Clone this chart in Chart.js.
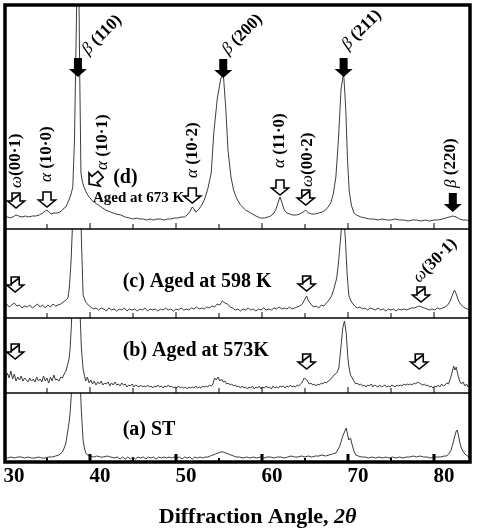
<!DOCTYPE html>
<html>
<head>
<meta charset="utf-8">
<script src="https://cdn.jsdelivr.net/npm/chart.js@4"></script>
<style>
  html, body { margin: 0; padding: 0; background: #fff; }
  #wrap { width: 478px; height: 530px; }
</style>
</head>
<body>
<div id="wrap"><canvas id="xrdChart" width="478" height="530"></canvas></div>
<script>
// XRD patterns, [2theta, intensity a.u.]
const patternD = [
  [30.0,11],[30.4,12],[30.8,11],[31.2,13],[31.4,14],[31.7,13],[32.1,12],[32.5,13],[32.9,12],[33.3,13],
  [33.7,13],[34.1,14],[34.5,16],[34.8,18],[35.0,19],[35.2,17],[35.5,15],[35.8,16],[36.2,16],[36.5,17],
  [36.8,19],[37.0,21],[37.2,22],[37.4,26],[37.56,29],[37.8,35],[38.0,42],[38.2,90],[38.35,170],[38.5,250],
  [38.6,265],[38.7,250],[38.8,160],[38.95,56],[39.1,48],[39.3,42],[39.6,36],[39.9,32],[40.3,28],[40.8,25],
  [41.3,22],[41.8,19],[42.4,17],[43.0,15],[43.6,14],[44.1,12],[44.6,11],[45.0,10],[45.4,11],[45.8,10],
  [46.2,10],[46.6,9],[47.0,10],[47.4,9],[47.8,10],[48.2,10],[48.6,9],[49.0,10],[49.4,10],[49.8,11],
  [50.2,11],[50.6,12],[51.0,12],[51.3,14],[51.6,17],[51.9,22],[52.1,20],[52.3,17],[52.6,19],[53.0,24],
  [53.3,29],[53.7,40],[54.1,56],[54.4,96],[54.8,130],[55.2,150],[55.5,156],[55.8,120],[56.05,79],[56.4,52],
  [56.7,39],[57.1,30],[57.5,24],[58.1,19],[58.7,16],[59.3,13],[59.8,11],[60.3,11],[60.7,12],[61.0,13],
  [61.3,15],[61.6,19],[61.9,27],[62.1,32],[62.3,27],[62.6,19],[62.9,16],[63.2,15],[63.6,14],[64.0,14],
  [64.4,15],[64.8,17],[65.1,19],[65.4,16],[65.8,15],[66.2,15],[66.6,16],[67.0,17],[67.4,19],[67.7,22],
  [68.0,26],[68.3,35],[68.6,52],[68.9,90],[69.2,140],[69.5,156],[69.75,120],[69.95,70],[70.15,38],[70.4,24],
  [70.7,16],[71.0,14],[71.5,12],[72.0,11],[72.5,10],[73.0,10],[73.5,9],[74.0,10],[74.5,9],[75.0,9],
  [75.5,10],[76.0,9],[76.5,9],[77.0,8],[77.5,9],[78.0,9],[78.5,8],[79.0,9],[79.5,8],[80.0,9],
  [80.5,9],[81.0,10],[81.4,11],[81.8,12],[82.2,13],[82.6,12],[83.0,10],[83.4,9],[83.8,9],[84.1,8],[84.4,9]
];

const patternC = [
  [30.0,12],[30.3,14],[30.6,11],[30.9,13],[31.2,15],[31.5,12],[31.8,13],[32.1,10],[32.4,12],[32.7,11],
  [33.0,13],[33.3,10],[33.6,12],[33.9,14],[34.2,11],[34.5,13],[34.8,10],[35.1,13],[35.4,11],[35.7,14],
  [36.0,12],[36.3,13],[36.6,14],[36.9,16],[37.2,18],[37.44,20],[37.6,30],[37.8,57],[38.0,100],[38.2,160],
  [38.4,215],[38.6,225],[38.8,170],[39.0,80],[39.2,23],[39.5,16],[39.8,13],[40.1,11],[40.4,9],[40.7,10],
  [41.0,8],[41.3,10],[41.6,9],[41.9,7],[42.2,10],[42.5,8],[42.8,9],[43.1,7],[43.4,9],[43.7,8],
  [44.0,10],[44.3,7],[44.6,9],[44.9,8],[45.2,9],[45.5,7],[45.8,9],[46.1,8],[46.4,10],[46.7,7],
  [47.0,9],[47.3,8],[47.6,9],[47.9,7],[48.2,9],[48.5,8],[48.8,10],[49.1,8],[49.4,9],[49.7,7],
  [50.0,9],[50.3,8],[50.6,10],[50.9,8],[51.2,9],[51.5,8],[51.8,10],[52.1,9],[52.4,11],[52.7,9],
  [53.0,10],[53.3,9],[53.6,11],[53.9,10],[54.2,12],[54.5,11],[54.8,14],[55.1,13],[55.4,17],[55.7,15],
  [56.0,14],[56.3,11],[56.6,10],[56.9,8],[57.2,9],[57.5,7],[57.8,9],[58.1,8],[58.4,10],[58.7,8],
  [59.0,9],[59.3,7],[59.6,9],[59.9,8],[60.2,10],[60.5,8],[60.8,9],[61.1,8],[61.4,10],[61.7,9],
  [62.0,11],[62.3,9],[62.6,10],[62.9,9],[63.2,11],[63.5,9],[63.8,10],[64.1,11],[64.4,12],[64.7,14],
  [65.0,19],[65.2,22],[65.4,17],[65.7,14],[66.0,11],[66.3,12],[66.6,10],[66.9,13],[67.2,12],[67.5,15],
  [67.8,18],[68.1,22],[68.4,30],[68.7,40],[68.9,55],[69.1,75],[69.3,95],[69.5,100],[69.7,80],[69.9,45],
  [70.1,23],[70.3,18],[70.5,15],[70.8,12],[71.1,10],[71.4,11],[71.7,9],[72.0,10],[72.3,8],[72.6,10],
  [72.9,9],[73.2,8],[73.5,10],[73.8,8],[74.1,9],[74.4,7],[74.7,9],[75.0,8],[75.3,9],[75.6,7],
  [75.9,9],[76.2,8],[76.5,9],[76.8,8],[77.1,9],[77.4,10],[77.7,10],[78.0,11],[78.3,12],[78.6,11],
  [78.9,10],[79.2,9],[79.5,8],[79.8,9],[80.1,8],[80.4,10],[80.7,9],[81.0,10],[81.3,11],[81.6,13],
  [81.9,17],[82.1,22],[82.3,26],[82.4,28],[82.6,24],[82.8,19],[83.0,15],[83.3,12],[83.6,10],[83.9,9],
  [84.2,8],[84.4,9]
];

const patternB = [
  [30.0,18],[30.2,14],[30.4,20],[30.6,15],[30.8,22],[31.0,14],[31.2,19],[31.4,12],[31.6,16],[31.8,13],
  [32.0,17],[32.2,12],[32.4,15],[32.6,13],[32.8,11],[33.0,15],[33.2,12],[33.4,14],[33.6,11],[33.8,16],
  [34.0,12],[34.2,14],[34.4,11],[34.6,17],[34.8,12],[35.0,15],[35.2,10],[35.4,16],[35.6,12],[35.8,18],
  [36.0,13],[36.2,14],[36.4,12],[36.6,16],[36.8,15],[37.0,19],[37.2,22],[37.4,28],[37.56,34],[37.7,45],
  [37.85,70],[38.0,110],[38.2,150],[38.4,160],[38.6,140],[38.8,90],[39.0,45],[39.2,24],[39.35,18],[39.5,12],
  [39.7,16],[39.9,10],[40.1,13],[40.3,9],[40.5,12],[40.7,8],[40.9,11],[41.1,9],[41.3,12],[41.5,8],
  [41.7,10],[41.9,9],[42.1,11],[42.3,7],[42.5,10],[42.7,8],[42.9,11],[43.1,8],[43.3,9],[43.5,7],
  [43.7,10],[43.9,8],[44.1,9],[44.3,6],[44.5,8],[44.7,7],[44.9,9],[45.1,6],[45.3,8],[45.5,7],
  [45.7,6],[45.9,8],[46.1,6],[46.3,7],[46.5,6],[46.7,8],[46.9,6],[47.1,7],[47.3,5],[47.5,7],
  [47.7,6],[47.9,8],[48.1,6],[48.3,7],[48.5,5],[48.7,7],[48.9,6],[49.1,8],[49.3,6],[49.5,7],
  [49.7,5],[49.9,6],[50.1,5],[50.3,7],[50.5,5],[50.7,6],[50.9,5],[51.1,6],[51.3,4],[51.5,6],
  [51.7,5],[51.9,6],[52.1,5],[52.3,7],[52.5,5],[52.7,6],[52.9,5],[53.1,7],[53.3,6],[53.5,7],
  [53.7,6],[53.9,8],[54.1,7],[54.3,9],[54.5,15],[54.7,13],[54.9,16],[55.1,12],[55.3,14],[55.5,11],
  [55.7,12],[55.9,9],[56.1,10],[56.3,8],[56.5,9],[56.7,7],[56.9,8],[57.1,6],[57.3,7],[57.5,5],
  [57.7,7],[57.9,5],[58.1,6],[58.3,4],[58.5,6],[58.7,5],[58.9,7],[59.1,4],[59.3,6],[59.5,5],
  [59.7,7],[59.9,4],[60.1,6],[60.3,5],[60.5,7],[60.7,5],[60.9,6],[61.1,4],[61.3,7],[61.5,5],
  [61.7,6],[61.9,5],[62.1,7],[62.3,6],[62.5,7],[62.7,5],[62.9,7],[63.1,6],[63.3,8],[63.5,6],
  [63.7,7],[63.9,6],[64.1,8],[64.3,7],[64.5,9],[64.7,11],[64.9,15],[65.1,14],[65.3,12],[65.5,9],
  [65.7,10],[65.9,8],[66.1,9],[66.3,7],[66.5,9],[66.7,8],[66.9,10],[67.1,9],[67.3,11],[67.5,10],
  [67.7,12],[67.9,13],[68.1,15],[68.3,17],[68.5,19],[68.7,20],[68.95,25],[69.2,47],[69.4,65],[69.6,72],
  [69.8,60],[70.0,35],[70.1,27],[70.3,18],[70.5,15],[70.7,12],[70.9,9],[71.1,10],[71.3,8],[71.5,9],
  [71.7,7],[71.9,8],[72.1,6],[72.3,8],[72.5,7],[72.7,9],[72.9,6],[73.1,8],[73.3,7],[73.5,6],
  [73.7,8],[73.9,6],[74.1,7],[74.3,8],[74.5,6],[74.7,7],[74.9,6],[75.1,8],[75.3,7],[75.5,6],
  [75.7,8],[75.9,7],[76.1,8],[76.3,7],[76.5,9],[76.7,8],[76.9,9],[77.1,8],[77.3,9],[77.5,8],
  [77.7,10],[77.9,9],[78.1,11],[78.3,10],[78.5,9],[78.7,8],[78.9,9],[79.1,7],[79.3,8],[79.5,6],
  [79.7,7],[79.9,5],[80.1,7],[80.3,6],[80.5,8],[80.7,6],[80.9,9],[81.1,7],[81.3,8],[81.5,10],
  [81.7,9],[81.9,14],[82.1,20],[82.3,27],[82.45,23],[82.6,26],[82.8,18],[83.0,12],[83.2,9],[83.4,11],
  [83.6,7],[83.8,9],[84.0,6],[84.2,8],[84.4,7]
];

const patternA = [
  [30.0,5],[30.4,4],[30.8,5],[31.2,4],[31.6,5],[32.0,5],[32.4,4],[32.8,5],[33.2,4],[33.6,4],
  [34.0,5],[34.4,4],[34.8,4],[35.2,5],[35.6,5],[36.0,6],[36.4,7],[36.8,10],[37.0,14],[37.2,19],
  [37.4,30],[37.56,39],[37.7,50],[37.85,70],[38.0,95],[38.2,115],[38.4,122],[38.6,118],[38.8,95],[39.0,50],
  [39.2,22],[39.35,14],[39.5,9],[39.7,7],[40.0,6],[40.4,5],[40.8,6],[41.2,5],[41.6,5],[42.0,6],
  [42.4,5],[42.8,4],[43.2,5],[43.5,3],[43.8,5],[44.1,3],[44.4,5],[44.7,3],[45.0,5],[45.3,3],
  [45.6,5],[45.9,4],[46.2,5],[46.5,3],[46.8,5],[47.1,4],[47.4,5],[47.7,3],[48.0,5],[48.3,4],
  [48.6,5],[48.9,4],[49.2,5],[49.5,4],[49.8,5],[50.1,4],[50.4,5],[50.7,3],[51.0,5],[51.3,4],
  [51.6,5],[51.9,3],[52.2,5],[52.5,4],[52.8,5],[53.1,4],[53.4,5],[53.7,5],[54.0,6],[54.3,7],
  [54.6,8],[54.9,9],[55.2,10],[55.5,10],[55.8,9],[56.1,8],[56.4,7],[56.7,6],[57.0,5],[57.4,5],
  [57.8,4],[58.2,5],[58.6,4],[59.0,5],[59.4,4],[59.8,5],[60.2,4],[60.6,5],[61.0,5],[61.4,4],
  [61.8,5],[62.2,5],[62.6,4],[63.0,5],[63.4,6],[63.8,5],[64.2,5],[64.6,6],[65.0,5],[65.4,6],
  [65.8,5],[66.2,6],[66.6,6],[67.0,7],[67.4,6],[67.8,7],[68.2,8],[68.6,9],[68.8,12],[69.0,15],
  [69.2,20],[69.4,26],[69.6,30],[69.8,34],[69.95,28],[70.1,22],[70.3,24],[70.5,17],[70.7,11],[70.9,7],
  [71.2,6],[71.6,5],[72.0,5],[72.4,4],[72.8,5],[73.2,4],[73.6,5],[74.0,4],[74.4,5],[74.8,4],
  [75.2,5],[75.6,4],[76.0,5],[76.4,4],[76.8,5],[77.2,5],[77.6,6],[78.0,5],[78.4,6],[78.8,5],
  [79.2,5],[79.6,4],[80.0,5],[80.4,5],[80.8,5],[81.2,6],[81.5,6],[81.8,9],[82.0,12],[82.2,18],
  [82.4,25],[82.6,31],[82.7,32],[82.85,27],[83.0,20],[83.15,15],[83.3,12],[83.6,8],[83.9,6],[84.1,5],[84.4,4]
];

// panel heights (a.u. full scale) from bottom to top: (a) ST, (b) 573K, (c) 598K, (d) 673K
const panelIds = ['yA', 'yB', 'yC', 'yD'];
const panelRange = [69, 75, 89, 224];
const xTicks = [30, 40, 50, 60, 70, 80];

// peak markers: panel, 2theta, arrow tip (a.u.), kind
const arrowMarks = [
  ['yD', 31.4, 21, 'omega'], ['yD', 35.0, 22, 'open'], ['yD', 38.6, 152, 'solid'],
  ['yD', 51.9, 26, 'open'], ['yD', 55.5, 151, 'solid'], ['yD', 62.1, 34, 'open'],
  ['yD', 65.1, 24, 'omega'], ['yD', 69.5, 152, 'solid'], ['yD', 82.2, 17, 'solid'],
  ['yC', 31.3, 26, 'omega'], ['yC', 65.2, 27, 'omega'], ['yC', 78.5, 16, 'omega'],
  ['yB', 31.3, 34, 'omega'], ['yB', 65.2, 24, 'omega'], ['yB', 78.3, 24, 'omega']
];

// peak labels: panel, 2theta, a.u., angle, phase symbol, indices
const peakLabels = [
  ['yD', 31.4, 41, -90, 'ω', '(00·1)'],
  ['yD', 35.0, 47, -90, 'α', ' (10·0)'],
  ['yD', 41.5, 59, -90, 'α', ' (10·1)'],
  ['yD', 51.9, 51, -90, 'α', ' (10·2)'],
  ['yD', 62.0, 61, -90, 'α', ' (11·0)'],
  ['yD', 65.3, 42, -90, 'ω', '(00·2)'],
  ['yD', 82.0, 41, -90, 'β', ' (220)'],
  ['yD', 39.4, 177, -45, 'β', ' (110)'],
  ['yD', 55.7, 177, -45, 'β', ' (200)'],
  ['yD', 69.6, 182, -45, 'β', ' (211)'],
  ['yC', 77.9, 38, -45, 'ω', '(30·1)']
];

const panelCaptions = [
  ['yD', 42.7, 51, '(d)'],
  ['yD', 40.35, 31, 'Aged at 673 K'],
  ['yC', 43.8, 36, '(c) Aged at 598 K'],
  ['yB', 43.8, 42, '(b) Aged at 573K'],
  ['yA', 43.8, 32, '(a) ST']
];

const SERIF = '"Liberation Serif", "DejaVu Serif", serif';

function arrowPath(ctx, len, shaftW, headW, headH) {
  // tip at origin, pointing down
  ctx.beginPath();
  ctx.moveTo(-shaftW / 2, -len);
  ctx.lineTo(shaftW / 2, -len);
  ctx.lineTo(shaftW / 2, -headH);
  ctx.lineTo(headW / 2, -headH);
  ctx.lineTo(0, 0);
  ctx.lineTo(-headW / 2, -headH);
  ctx.lineTo(-shaftW / 2, -headH);
  ctx.closePath();
}

function drawArrow(ctx, x, y, kind, rot) {
  ctx.save();
  ctx.translate(x, y);
  ctx.rotate(rot || 0);
  if (kind === 'solid') {
    arrowPath(ctx, 19, 8, 18, 8);
    ctx.fillStyle = '#000';
    ctx.fill();
  } else {
    arrowPath(ctx, 15, 8, 17, 7);
    ctx.fillStyle = '#fff';
    ctx.fill();
    ctx.lineWidth = 1.6;
    ctx.strokeStyle = '#000';
    ctx.stroke();
    if (kind === 'omega') {
      ctx.beginPath();
      ctx.moveTo(4, -14);
      ctx.lineTo(-4, -8);
      ctx.stroke();
    }
  }
  ctx.restore();
}

function drawLabel(ctx, greek, rest, x, y, deg, size) {
  ctx.save();
  ctx.translate(x, y);
  ctx.rotate(deg * Math.PI / 180);
  ctx.fillStyle = '#000';
  ctx.textBaseline = 'middle';
  ctx.textAlign = 'left';
  ctx.font = 'italic ' + size + 'px ' + SERIF;
  ctx.fillText(greek, 0, 0);
  const w = ctx.measureText(greek).width;
  ctx.font = 'bold ' + size + 'px ' + SERIF;
  ctx.fillText(rest, w, 0);
  ctx.restore();
}

const xrdDecor = {
  id: 'xrdDecor',
  afterDatasetsDraw(chart) {
    const { ctx, chartArea: ca, scales } = chart;
    const xs = scales.x;
    ctx.save();

    // panel dividers
    ctx.strokeStyle = '#000';
    ctx.lineWidth = 1.5;
    ['yD', 'yC', 'yB'].forEach(id => {
      const yy = scales[id].bottom;
      ctx.beginPath();
      ctx.moveTo(ca.left, yy);
      ctx.lineTo(ca.right, yy);
      ctx.stroke();
    });

    // tick marks along the bottom of each panel
    for (let v = 35; v < xs.max; v += 5) {
      const px = Math.round(xs.getPixelForValue(v));
      const major = v % 10 === 0;
      panelIds.forEach(id => {
        const yy = scales[id].bottom;
        ctx.fillStyle = '#000';
        if (id === 'yA') {
          if (major) ctx.fillRect(px - 1.5, yy - 8, 3, 8);
          else ctx.fillRect(px - 1, yy - 4, 2, 4);
        } else {
          ctx.fillRect(px - 0.5, yy - (major ? 6 : 5), 1, major ? 6 : 5);
        }
      });
    }

    // peak arrows
    arrowMarks.forEach(([id, tt, val, kind]) => {
      drawArrow(ctx, xs.getPixelForValue(tt), scales[id].getPixelForValue(val), kind, 0);
    });
    // tilted arrow for alpha(10-1)
    drawArrow(ctx, xs.getPixelForValue(39.9), scales.yD.getPixelForValue(45), 'open', 50 * Math.PI / 180);

    // peak labels
    peakLabels.forEach(([id, tt, val, deg, g, hkl]) => {
      drawLabel(ctx, g, hkl, xs.getPixelForValue(tt), scales[id].getPixelForValue(val), deg, 17);
    });

    // panel captions
    ctx.fillStyle = '#000';
    ctx.textBaseline = 'middle';
    ctx.textAlign = 'left';
    panelCaptions.forEach(([id, tt, val, txt]) => {
      const size = txt.startsWith('Aged') ? 15 : 20;
      ctx.font = 'bold ' + size + 'px ' + SERIF;
      ctx.fillText(txt, xs.getPixelForValue(tt), scales[id].getPixelForValue(val));
    });

    // outer frame
    ctx.strokeStyle = '#000';
    ctx.lineWidth = 3.5;
    ctx.strokeRect(ca.left + 1, ca.top, ca.right - ca.left - 1, ca.bottom - ca.top);

    // axis title with italic 2θ
    const t1 = 'Diffraction Angle, ';
    const t2 = '2θ';
    ctx.font = 'bold 22px ' + SERIF;
    const w1 = ctx.measureText(t1).width;
    ctx.font = 'bold italic 22px ' + SERIF;
    const w2 = ctx.measureText(t2).width;
    const cx = xs.getPixelForValue(59.5);
    const ty = 517;
    ctx.textBaseline = 'middle';
    ctx.font = 'bold 22px ' + SERIF;
    ctx.fillText(t1, cx - (w1 + w2) / 2, ty);
    ctx.font = 'bold italic 22px ' + SERIF;
    ctx.fillText(t2, cx - (w1 + w2) / 2 + w1, ty);

    ctx.restore();
  }
};

const toXY = arr => arr.map(([x, y]) => ({ x, y }));
const lineStyle = { borderColor: '#3c3c3c', borderWidth: 1, pointRadius: 0, tension: 0, fill: false };

const scales = {
  x: {
    type: 'linear',
    position: 'bottom',
    min: 30,
    max: 84.2,
    grid: { display: false, drawTicks: false },
    border: { display: false },
    ticks: {
      stepSize: 10,
      includeBounds: false,
      labelOffset: 10,
      padding: 2,
      autoSkip: false,
      maxRotation: 0,
      color: '#000',
      font: { family: SERIF, size: 21, weight: 'bold' },
      callback: v => (xTicks.includes(v) ? String(v) : '')
    },
    afterFit: s => {
      s.height = 68;
      s.paddingLeft = 0;
      s.paddingRight = 0;
    }
  }
};
panelIds.forEach((id, i) => {
  scales[id] = {
    type: 'linear',
    position: 'left',
    stack: 'xrd',
    stackWeight: panelRange[i],
    weight: i + 1,
    min: 0,
    max: panelRange[i],
    display: false
  };
});

new Chart(document.getElementById('xrdChart'), {
  type: 'line',
  data: {
    datasets: [
      { label: '(a) ST', data: toXY(patternA), yAxisID: 'yA', ...lineStyle },
      { label: '(b) Aged at 573K', data: toXY(patternB), yAxisID: 'yB', ...lineStyle },
      { label: '(c) Aged at 598 K', data: toXY(patternC), yAxisID: 'yC', ...lineStyle },
      { label: '(d) Aged at 673 K', data: toXY(patternD), yAxisID: 'yD', ...lineStyle }
    ]
  },
  options: {
    responsive: false,
    animation: false,
    devicePixelRatio: 1,
    layout: { autoPadding: false, padding: { left: 4, right: 8, top: 5, bottom: 0 } },
    plugins: { legend: { display: false }, tooltip: { enabled: false } },
    scales: scales
  },
  plugins: [xrdDecor]
});
</script>
</body>
</html>
